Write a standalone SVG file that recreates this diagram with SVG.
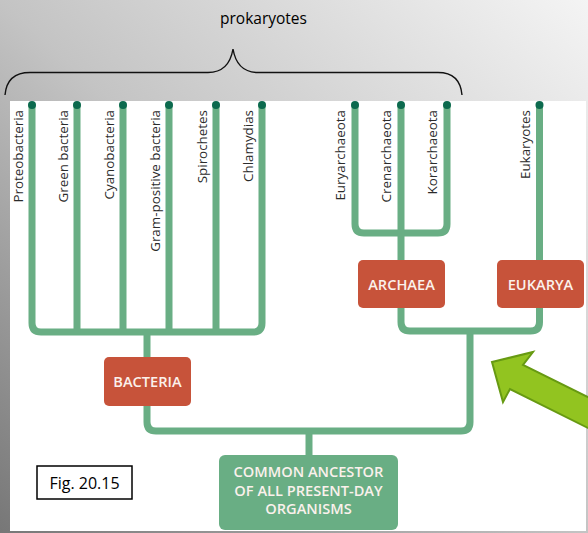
<svg xmlns="http://www.w3.org/2000/svg" width="588" height="533" viewBox="0 0 588 533">
  <defs>
    <linearGradient id="bg" x1="0" y1="1" x2="1" y2="0">
      <stop offset="0" stop-color="#777777"/>
      <stop offset="0.5" stop-color="#c4c4c4"/>
      <stop offset="1" stop-color="#f4f4f4"/>
    </linearGradient>
    <style>
      .branch { fill: none; stroke: #69ae84; stroke-width: 7; }
      .tip { fill: #0c6a4e; }
      .leaf { font-family: "Open Sans", "Noto Sans", sans-serif; font-size: 13.4px; fill: #2b2b2b; text-anchor: end; }
      .redbox { fill: #c7533a; }
      .greenbox { fill: #69ae84; }
      .boxlabel { font-family: "Open Sans", "Noto Sans", sans-serif; font-size: 14.6px; font-weight: 600; fill: #fbf1ec; text-anchor: middle; }
      .note { font-family: "Open Sans", "Noto Sans", sans-serif; fill: #000000; }
    </style>
  </defs>

  <rect x="0" y="0" width="588" height="533" fill="url(#bg)"/>
  <rect x="10" y="101" width="576" height="430" fill="#ffffff"/>

  <!-- brace and label -->
  <g id="prokaryotes">
    <path d="M5,95 Q7,72.5 30,72.5 H208 Q229,72.5 233,49 Q237,72.5 258,72.5 H438 Q460,72.5 462,95" fill="none" stroke="#111111" stroke-width="1.4"/>
    <text class="note" x="263.5" y="24" font-size="15.5" text-anchor="middle">prokaryotes</text>
  </g>

  <!-- connectors -->
  <g id="connectors">
    <path class="branch" d="M32,105 V323 Q32,332 41,332 H253 Q262,332 262,323 V105"/>
    <path class="branch" d="M77,105 V332 M123,105 V332 M169,105 V332 M216,105 V332"/>
    <path class="branch" d="M147,332 V360"/>
    <path class="branch" d="M147,403 V422 Q147,431 156,431 H461 Q470,431 470,422 V331"/>
    <path class="branch" d="M309,431 V458"/>
    <path class="branch" d="M355,105 V224 Q355,233 364,233 H438 Q447,233 447,224 V105"/>
    <path class="branch" d="M401,105 V263"/>
    <path class="branch" d="M539.5,105 V263"/>
    <path class="branch" d="M401,305 V322 Q401,331 410,331 H530.5 Q539.5,331 539.5,322 V305"/>
  </g>

  <!-- leaves -->
  <g id="leaf-proteobacteria"><circle class="tip" cx="32" cy="105" r="4"/><text class="leaf" transform="translate(22.5,110) rotate(-90)">Proteobacteria</text></g>
  <g id="leaf-green-bacteria"><circle class="tip" cx="77" cy="105" r="4"/><text class="leaf" transform="translate(67.5,110) rotate(-90)">Green bacteria</text></g>
  <g id="leaf-cyanobacteria"><circle class="tip" cx="123" cy="105" r="4"/><text class="leaf" transform="translate(113.5,110) rotate(-90)">Cyanobacteria</text></g>
  <g id="leaf-gram-positive"><circle class="tip" cx="169" cy="105" r="4"/><text class="leaf" transform="translate(159.5,110) rotate(-90)">Gram-positive bacteria</text></g>
  <g id="leaf-spirochetes"><circle class="tip" cx="216" cy="105" r="4"/><text class="leaf" transform="translate(206.5,110) rotate(-90)">Spirochetes</text></g>
  <g id="leaf-chlamydias"><circle class="tip" cx="262" cy="105" r="4"/><text class="leaf" transform="translate(252.5,110) rotate(-90)">Chlamydias</text></g>
  <g id="leaf-euryarchaeota"><circle class="tip" cx="355" cy="105" r="4"/><text class="leaf" transform="translate(345,110) rotate(-90)">Euryarchaeota</text></g>
  <g id="leaf-crenarchaeota"><circle class="tip" cx="401" cy="105" r="4"/><text class="leaf" transform="translate(391,110) rotate(-90)">Crenarchaeota</text></g>
  <g id="leaf-korarchaeota"><circle class="tip" cx="447" cy="105" r="4"/><text class="leaf" transform="translate(437,110) rotate(-90)">Korarchaeota</text></g>
  <g id="leaf-eukaryotes"><circle class="tip" cx="539.5" cy="105" r="4"/><text class="leaf" transform="translate(529.5,110) rotate(-90)">Eukaryotes</text></g>

  <!-- domain boxes -->
  <g id="bacteria">
    <rect class="redbox" x="104" y="357" width="87" height="49" rx="5"/>
    <text class="boxlabel" x="147.5" y="387">BACTERIA</text>
  </g>
  <g id="archaea">
    <rect class="redbox" x="358" y="260" width="87" height="48" rx="5"/>
    <text class="boxlabel" x="401.5" y="289.5">ARCHAEA</text>
  </g>
  <g id="eukarya">
    <rect class="redbox" x="497" y="260" width="87" height="48" rx="5"/>
    <text class="boxlabel" x="540.5" y="289.5">EUKARYA</text>
  </g>
  <g id="common-ancestor">
    <rect class="greenbox" x="219" y="455" width="179" height="75" rx="6"/>
    <text class="boxlabel" x="308.5" y="477">COMMON ANCESTOR</text>
    <text class="boxlabel" x="308.5" y="495.5">OF ALL PRESENT-DAY</text>
    <text class="boxlabel" x="308.5" y="514">ORGANISMS</text>
  </g>

  <!-- figure label -->
  <g id="fig-label">
    <rect x="37" y="466" width="95" height="33" fill="#ffffff" stroke="#000000" stroke-width="1.5"/>
    <text class="note" x="84.5" y="489" font-size="16" text-anchor="middle">Fig. 20.15</text>
  </g>

  <!-- highlight arrow -->
  <g id="pointer-arrow">
    <path d="M492,362 L533,352 L523,365 L600,403 L600,434 L510,389 L503,402 Z" fill="#92c420" stroke="#679a12" stroke-width="2" stroke-linejoin="miter"/>
  </g>
</svg>
